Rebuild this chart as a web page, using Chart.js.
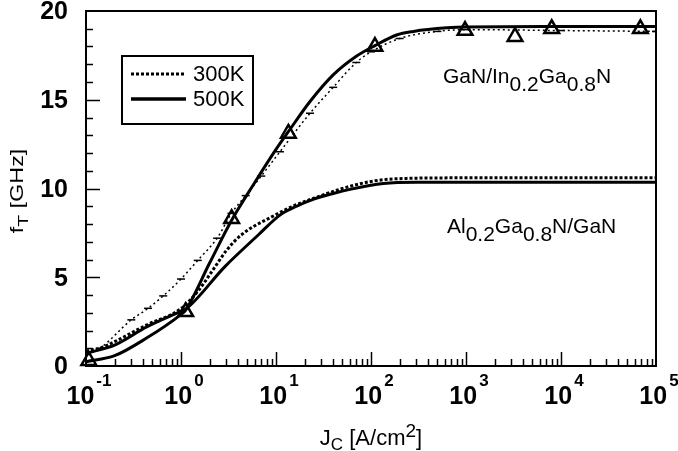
<!DOCTYPE html>
<html><head><meta charset="utf-8">
<script src="https://cdn.jsdelivr.net/npm/chart.js@4.4.1/dist/chart.umd.min.js"></script>
<style>html,body{margin:0;padding:0;background:#fff}canvas{display:block}</style>
</head><body>
<canvas id="c" width="678" height="451"></canvas>
<script>
// ---- data (J in A/cm^2, fT in GHz) ----
const jGaNInGaN500 = [0.1, 0.2, 0.43, 0.98, 1.12, 2, 3.4, 6, 10, 13.5, 22.8, 40, 70, 110, 186, 280, 630, 1000, 10000, 100000];
const fGaNInGaN500 = [0.24, 0.58, 1.56, 2.87, 3.15, 5.8, 8.2, 10.35, 12.2, 13.2, 14.9, 16.4, 17.45, 18.05, 18.65, 18.85, 19.05, 19.1, 19.12, 19.12];

const jGaNInGaN300 = [0.1, 0.14, 0.3, 0.45, 0.65, 1.0, 1.5, 2.4, 3.4, 4.8, 7, 11, 22.8, 40, 70, 100, 200, 500, 1000, 10000, 100000];
const fGaNInGaN300 = [0.65, 1.0, 2.6, 3.25, 3.95, 4.9, 5.95, 7.2, 8.6, 9.6, 10.7, 12.07, 14.24, 15.7, 17.1, 17.7, 18.45, 18.85, 18.95, 18.9, 18.85];

const jAlGaN500 = [0.1, 0.2, 0.435, 0.98, 1.12, 2.9, 6.5, 11, 16.5, 25, 40, 60, 135, 300, 1000, 100000];
const fAlGaN500 = [0.71, 1.18, 2.2, 3.06, 3.2, 5.6, 7.38, 8.5, 9.0, 9.4, 9.72, 9.95, 10.28, 10.35, 10.35, 10.35];

const jAlGaN300 = [0.1, 0.14, 0.2, 0.43, 0.98, 1.5, 2.1, 3, 4.35, 9.76, 14.6, 25, 50, 106, 238, 1000, 100000];
const fAlGaN300 = [0.85, 1.0, 1.37, 2.3, 3.2, 4.2, 5.3, 6.5, 7.4, 8.5, 8.97, 9.45, 10.0, 10.42, 10.57, 10.6, 10.6];

const jTriangles = [0.107, 1.12, 3.41, 13.5, 110, 977, 3280, 7980, 68500];
const fTriangles = [0.3, 3.05, 8.3, 13.1, 18.0, 18.9, 18.55, 19.0, 19.0];

const xTickValues = [0.1, 1, 10, 100, 1000, 10000, 100000];
const xTickExponents = ['-1', '0', '1', '2', '3', '4', '5'];
const yTickValues = [0, 5, 10, 15, 20];
const yTickLabels = ['0', '5', '10', '15', '20'];
const legendLabels = ['300K', '500K'];

const FONT = '"Liberation Sans", Arial, sans-serif';
function pts(xs, ys) { return xs.map((x, i) => ({ x: x, y: ys[i] })); }

function drawSubText(ctx, parts, x, y, size) {
  ctx.textAlign = 'left';
  ctx.textBaseline = 'alphabetic';
  let cx = x;
  for (const [t, shift, s] of parts) {
    ctx.font = (s || size) + 'px ' + FONT;
    ctx.fillText(t, cx, y + shift);
    cx += ctx.measureText(t).width;
  }
  return cx - x;
}
function measureParts(ctx, parts, size) {
  let w = 0;
  for (const [t, shift, s] of parts) { ctx.font = (s || size) + 'px ' + FONT; w += ctx.measureText(t).width; }
  return w;
}

const decor = {
  id: 'decor',
  afterDraw(chart) {
    const ctx = chart.ctx, a = chart.chartArea, x = chart.scales.x, y = chart.scales.y;
    ctx.save();
    ctx.fillStyle = '#000';
    ctx.strokeStyle = '#000';
    // frame
    ctx.lineWidth = 2;
    ctx.strokeRect(a.left, a.top, a.right - a.left, a.bottom - a.top);
    // y ticks (inward)
    ctx.lineWidth = 1.5;
    for (let v = 1; v < 20; v++) {
      const py = Math.round(y.getPixelForValue(v)) + 0.5;
      const len = (v % 5 === 0) ? 14 : 7;
      ctx.beginPath(); ctx.moveTo(a.left, py); ctx.lineTo(a.left + len, py); ctx.stroke();
    }
    // x ticks (inward)
    for (let d = -1; d <= 4; d++) {
      for (let k = 1; k <= 9; k++) {
        if (d === -1 && k === 1) continue;
        const v = k * Math.pow(10, d);
        const px = Math.round(x.getPixelForValue(v)) + 0.5;
        const len = (k === 1) ? 14 : 7;
        ctx.beginPath(); ctx.moveTo(px, a.bottom); ctx.lineTo(px, a.bottom - len); ctx.stroke();
      }
    }
    // y tick labels
    ctx.font = 'bold 25px ' + FONT;
    ctx.textAlign = 'right';
    ctx.textBaseline = 'middle';
    yTickValues.forEach((v, i) => {
      ctx.fillText(yTickLabels[i], 68, y.getPixelForValue(v) + 1.5);
    });
    // x tick labels 10^n
    xTickValues.forEach((v, i) => {
      const px = x.getPixelForValue(v);
      ctx.font = 'bold 25px ' + FONT;
      const wb = ctx.measureText('10').width;
      ctx.font = 'bold 17px ' + FONT;
      const we = ctx.measureText(xTickExponents[i]).width;
      const left = px - (wb + 2 + we) / 2 + 3;
      ctx.textAlign = 'left'; ctx.textBaseline = 'alphabetic';
      ctx.font = 'bold 25px ' + FONT;
      ctx.fillText('10', left, 404);
      ctx.font = 'bold 17px ' + FONT;
      ctx.fillText(xTickExponents[i], left + wb + 2, 386);
    });
    // x axis title
    const xt = [['J', 0], ['C', 5, 17], [' [A/cm', 0], ['2', -8, 19], [']', 0]];
    const wxt = measureParts(ctx, xt, 22);
    drawSubText(ctx, xt, (a.left + a.right) / 2 - wxt / 2, 445, 22);
    // y axis title (rotated, slightly stretched along its length)
    ctx.save();
    ctx.translate(23, 191);
    ctx.rotate(-Math.PI / 2);
    ctx.scale(1.3, 1);
    const yt = [['f', 0], ['T', 5, 15], [' [GHz]', 0]];
    const wyt = measureParts(ctx, yt, 18);
    drawSubText(ctx, yt, -wyt / 2, 0, 18);
    ctx.restore();
    // curve labels
    drawSubText(ctx, [['GaN/In', 0], ['0.2', 8], ['Ga', 0], ['0.8', 8], ['N', 0]], 443, 83, 21);
    drawSubText(ctx, [['Al', 0], ['0.2', 8], ['Ga', 0], ['0.8', 8], ['N/GaN', 0]], 447, 233, 21);
    // legend
    ctx.fillStyle = '#fff';
    ctx.fillRect(122, 56, 131, 68);
    ctx.fillStyle = '#000';
    ctx.lineWidth = 2;
    ctx.strokeRect(122, 56, 131, 68);
    ctx.lineWidth = 3;
    ctx.setLineDash([3, 2]);
    ctx.beginPath(); ctx.moveTo(131, 74); ctx.lineTo(186, 74); ctx.stroke();
    ctx.setLineDash([]);
    ctx.lineWidth = 3.5;
    ctx.beginPath(); ctx.moveTo(131, 99); ctx.lineTo(186, 99); ctx.stroke();
    ctx.font = '22px ' + FONT;
    ctx.textAlign = 'left'; ctx.textBaseline = 'middle';
    ctx.fillText(legendLabels[0], 193, 75);
    ctx.fillText(legendLabels[1], 193, 100);
    ctx.restore();
  }
};

new Chart(document.getElementById('c'), {
  type: 'scatter',
  data: {
    datasets: [
      { label: 'Al0.2Ga0.8N/GaN 300K', data: pts(jAlGaN300, fAlGaN300), showLine: true,
        borderColor: '#000', borderWidth: 3, borderDash: [3, 2], pointRadius: 0, cubicInterpolationMode: 'monotone' },
      { label: 'GaN/In0.2Ga0.8N 300K', data: pts(jGaNInGaN300, fGaNInGaN300), showLine: true,
        borderColor: '#000', borderWidth: 1.5, borderDash: [2, 3], pointStyle: 'line', pointRadius: 4,
        pointBorderWidth: 1.5, pointBorderColor: '#000', cubicInterpolationMode: 'monotone' },
      { label: 'Al0.2Ga0.8N/GaN 500K', data: pts(jAlGaN500, fAlGaN500), showLine: true,
        borderColor: '#000', borderWidth: 3, pointRadius: 0, cubicInterpolationMode: 'monotone' },
      { label: 'GaN/In0.2Ga0.8N 500K', data: pts(jGaNInGaN500, fGaNInGaN500), showLine: true,
        borderColor: '#000', borderWidth: 3, pointRadius: 0, cubicInterpolationMode: 'monotone' },
      { label: 'data', data: pts(jTriangles, fTriangles), showLine: false, clip: false,
        pointStyle: 'triangle', pointRadius: 8.5, pointBorderWidth: 2.5,
        pointBorderColor: '#000', pointBackgroundColor: 'rgba(255,255,255,0)' }
    ]
  },
  options: {
    responsive: false,
    devicePixelRatio: 1,
    animation: false,
    layout: { padding: { left: 86, right: 22, top: 11, bottom: 85 } },
    plugins: { legend: { display: false }, tooltip: { enabled: false } },
    scales: {
      x: { type: 'logarithmic', min: 0.1, max: 100000, display: false },
      y: { type: 'linear', min: 0, max: 20, display: false }
    }
  },
  plugins: [decor]
});
</script>
</body></html>
